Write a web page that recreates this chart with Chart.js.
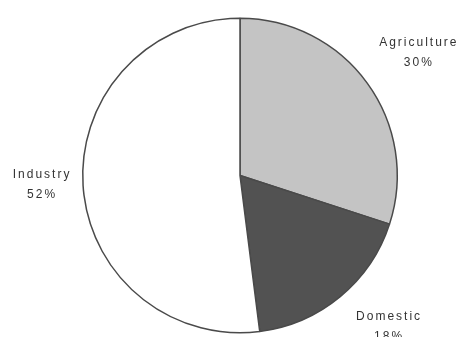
<!DOCTYPE html>
<html>
<head>
<meta charset="utf-8">
<script src="https://cdn.jsdelivr.net/npm/chart.js@4"></script>
<style>
  html, body { margin: 0; padding: 0; background: #fff; }
  #wrap { width: 461px; height: 337px; }
</style>
</head>
<body>
<div id="wrap"><canvas id="water__chart"></canvas></div>
<script>
// water use by sector (%)
var sectors = ['Agriculture', 'Domestic', 'Industry'];
var shares = [30, 18, 52];
var sliceColors = ['#c4c4c4', '#525252', '#ffffff'];

// where each label sits: distance from centre (x radius) and angular nudge in degrees
var labelSpots = [
    { dist: 1.38, nudge: 1.5 },
    { dist: 1.35, nudge: -5 },
    { dist: 1.26, nudge: 1 }
];

var outsideLabels = {
    id: 'outsideLabels',
    afterDatasetsDraw: function (chart) {
        var ctx = chart.ctx;
        var arcs = chart.getDatasetMeta(0).data;
        ctx.save();
        ctx.font = '12px "Liberation Sans", Arial, sans-serif';
        ctx.letterSpacing = '2px';
        ctx.fillStyle = '#333333';
        ctx.textAlign = 'center';
        ctx.textBaseline = 'middle';
        arcs.forEach(function (arc, i) {
            var p = arc.getProps(['x', 'y', 'startAngle', 'endAngle', 'outerRadius'], true);
            var a = (p.startAngle + p.endAngle) / 2 + labelSpots[i].nudge * Math.PI / 180;
            var r = p.outerRadius * labelSpots[i].dist;
            var x = p.x + Math.cos(a) * r;
            var y = p.y + Math.sin(a) * r;
            ctx.fillText(sectors[i], x, y - 10);
            ctx.fillText(shares[i] + '%', x, y + 10);
        });
        ctx.restore();
    }
};

var ctx = document.getElementById('water__chart').getContext('2d');
var waterChart = new Chart(ctx, {
    type: 'pie',
    data: {
        labels: sectors,
        datasets: [{
            data: shares,
            backgroundColor: sliceColors,
            borderColor: '#4a4a4a',
            borderWidth: 1.5
        }]
    },
    options: {
        responsive: true,
        maintainAspectRatio: false,
        animation: false,
        layout: {
            padding: { left: 82, right: 63, top: 17, bottom: 3 }
        },
        plugins: {
            legend: { display: false },
            tooltip: { enabled: false }
        }
    },
    plugins: [outsideLabels]
});
</script>
</body>
</html>
